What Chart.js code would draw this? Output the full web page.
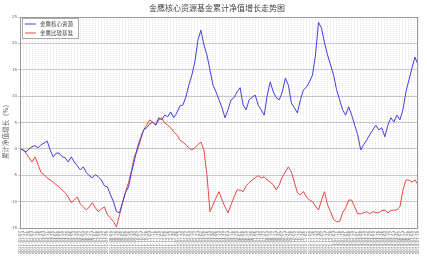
<!DOCTYPE html>
<html>
<head>
<meta charset="utf-8">
<script src="https://cdn.jsdelivr.net/npm/chart.js@4/dist/chart.umd.min.js"></script>
<style>
    html, body { margin: 0; padding: 0; background: #fff; }
    #wrap { width: 427px; height: 256px; }
</style>
</head>
<body>
<div id="wrap"><canvas id="navChart" width="427" height="256"></canvas></div>
<script>
const chartTitle = '金鹰核心资源基金累计净值增长走势图';
const yTitle = '累计净值增长（%）';
const seriesNames = ['金鹰核心资源', '金鹰比较基准'];

const fundValues = [
    0, -0.2, -0.6, 0, 0.4, 0.6, 0.2, 0.8, 1.1, 1.5,
    -0.2, -1.5, -0.8, -0.8, -1.5, -1.7, -2.5, -1.5, -2.5, -3.2,
    -4.0, -3.4, -4.5, -5.1, -5.5, -4.9, -5.3, -5.9, -7.0, -7.2,
    -8.7, -10.0, -11.9, -12.1, -10.2, -8.3, -7.2, -4.4, -2.1, 0.4,
    2.1, 3.6, 4.0, 4.7, 5.1, 4.5, 5.9, 5.5, 6.4, 6.1,
    7.0, 5.9, 6.8, 8.1, 8.3, 9.8, 12.1, 14.0, 16.5, 20.6,
    22.5, 19.7, 17.8, 15.0, 12.1, 10.8, 9.3, 7.8, 5.9, 7.4,
    9.3, 9.7, 10.8, 11.6, 8.3, 7.4, 9.3, 9.8, 10.2, 8.3,
    7.4, 6.4, 10.2, 12.7, 10.8, 9.7, 9.3, 10.8, 13.4, 12.1,
    8.7, 7.8, 6.8, 9.3, 11.2, 11.7, 12.7, 14.0, 17.8, 24.0,
    22.9, 20.1, 17.8, 15.9, 14.0, 11.2, 9.3, 7.4, 6.4, 8.0,
    6.4, 4.5, 2.7, -0.2, 0.8, 1.7, 2.7, 3.6, 4.5, 3.6,
    4.0, 2.3, 4.5, 5.9, 5.1, 6.4, 5.5, 7.4, 10.8, 13.1,
    15.3, 17.4, 15.9
];

const benchValues = [
    0, -0.2, -0.8, -1.7, -2.5, -1.5, -3.0, -4.5, -4.9, -5.5,
    -5.9, -6.3, -6.8, -7.2, -7.8, -8.3, -9.1, -10.2, -9.7, -9.1,
    -10.4, -11.0, -11.6, -11.0, -10.2, -11.2, -11.9, -11.4, -11.0, -12.5,
    -13.1, -13.8, -14.8, -12.5, -10.2, -8.1, -6.4, -4.0, -1.3, -0.2,
    1.7, 3.6, 4.5, 5.5, 5.1, 4.5, 5.5, 5.9, 4.9, 4.5,
    4.0, 3.2, 2.7, 1.7, 1.3, 0.8, 0.2, -0.2, 0.2, 0.8,
    1.3, -0.2, -4.9, -11.9, -10.6, -9.3, -8.1, -9.7, -11.0, -12.1,
    -10.6, -9.1, -7.8, -7.8, -8.1, -7.0, -6.4, -5.9, -5.5, -5.1,
    -5.5, -5.3, -5.9, -6.3, -6.8, -7.8, -6.8, -5.3, -4.4, -3.4,
    -4.4, -6.3, -8.3, -8.7, -8.1, -9.1, -9.7, -10.0, -10.8, -11.6,
    -9.7, -8.1, -10.6, -11.9, -13.4, -13.8, -13.8, -12.1, -11.2, -9.7,
    -9.7, -11.0, -12.3, -12.3, -12.1, -11.9, -12.3, -11.9, -12.1, -12.1,
    -11.7, -11.6, -12.1, -11.7, -11.6, -11.6, -11.0, -7.8, -5.9, -5.9,
    -6.3, -5.9, -6.8
];

const yTicks = [25, 20, 15, 10, 5, 0, -5, -10, -15];

// weekly dates for the category axis
const dateLabels = [];
(function () {
    const d = new Date(2011, 0, 7);
    for (let i = 0; i < fundValues.length; i++) {
        const mm = String(d.getMonth() + 1).padStart(2, '0');
        const dd = String(d.getDate()).padStart(2, '0');
        dateLabels.push(d.getFullYear() + '-' + mm + '-' + dd);
        d.setDate(d.getDate() + 7);
    }
})();

const decorPlugin = {
    id: 'decor',
    afterDraw: function (chart) {
        const ctx = chart.ctx;
        const area = chart.chartArea;
        ctx.save();

        // plot frame
        ctx.strokeStyle = '#9a9a9a';
        ctx.lineWidth = 1;
        ctx.strokeRect(area.left + 0.5, area.top + 0.5, area.right - area.left - 1, area.bottom - area.top);

        // title
        ctx.fillStyle = '#444';
        ctx.font = '8px "Noto Sans CJK SC"';
        ctx.textAlign = 'center';
        ctx.textBaseline = 'middle';
        ctx.fillText(chartTitle, 217, 8);

        // y axis title
        ctx.save();
        ctx.translate(6, 130);
        ctx.rotate(-Math.PI / 2);
        ctx.font = '6.5px "Noto Sans CJK SC"';
        ctx.fillStyle = '#666';
        ctx.fillText(yTitle, 0, 0);
        ctx.restore();

        // legend box
        const lx = 22, ly = 18, lw = 56, lh = 20;
        ctx.fillStyle = '#fff';
        ctx.fillRect(lx, ly, lw, lh);
        ctx.strokeStyle = '#aaa';
        ctx.strokeRect(lx + 0.5, ly + 0.5, lw, lh);
        ctx.font = '5.5px "Noto Sans CJK SC"';
        ctx.textAlign = 'left';
        chart.data.datasets.forEach(function (ds, i) {
            const yy = ly + 6 + i * 9;
            ctx.strokeStyle = ds.borderColor;
            ctx.lineWidth = 1;
            ctx.beginPath();
            ctx.moveTo(lx + 3, yy);
            ctx.lineTo(lx + 14, yy);
            ctx.stroke();
            ctx.fillStyle = '#444';
            ctx.fillText(ds.label, lx + 18, yy);
        });
        ctx.restore();
    }
};

const ctx = document.getElementById('navChart').getContext('2d');

new Chart(ctx, {
    type: 'line',
    data: {
        labels: dateLabels,
        datasets: [
            {
                label: seriesNames[0],
                data: fundValues,
                borderColor: '#4040e6',
                borderWidth: 1,
                pointRadius: 0,
                tension: 0,
                fill: false
            },
            {
                label: seriesNames[1],
                data: benchValues,
                borderColor: '#e84844',
                borderWidth: 1,
                pointRadius: 0,
                tension: 0,
                fill: false
            }
        ]
    },
    options: {
        responsive: false,
        animation: false,
        layout: {
            padding: { top: 17, right: 9, left: 0, bottom: 0 }
        },
        plugins: {
            legend: { display: false },
            tooltip: { enabled: false },
            title: { display: false }
        },
        scales: {
            x: {
                grid: {
                    color: '#d6d6d6',
                    lineWidth: 0.6,
                    tickLength: 2
                },
                border: { display: false, dash: [1, 1] },
                ticks: {
                    autoSkip: false,
                    maxRotation: 90,
                    minRotation: 90,
                    padding: 1,
                    color: '#666',
                    font: { size: 4, family: 'DejaVu Sans' }
                },
                afterFit: function (scale) {
                    scale.height = 28;
                }
            },
            y: {
                min: -15,
                max: 25,
                afterBuildTicks: function (scale) {
                    scale.ticks = yTicks.map(function (v) { return { value: v }; });
                },
                grid: {
                    color: '#c8c8c8',
                    lineWidth: 1,
                    tickLength: 2
                },
                border: { display: false },
                ticks: {
                    padding: 1,
                    color: '#666',
                    font: { size: 4, family: 'DejaVu Sans' }
                },
                afterFit: function (scale) {
                    scale.width = 20;
                }
            }
        }
    },
    plugins: [decorPlugin]
});
</script>
</body>
</html>
